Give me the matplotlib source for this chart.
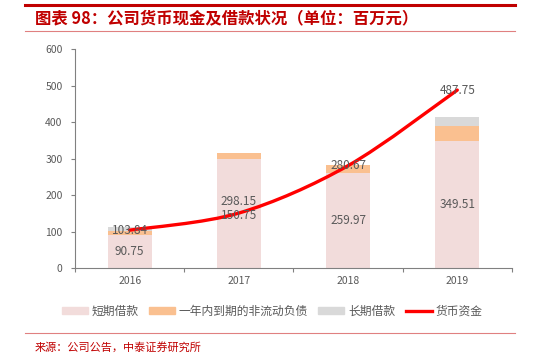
import matplotlib.pyplot as plt
from matplotlib.path import Path
from matplotlib.patches import PathPatch
from matplotlib.lines import Line2D
from matplotlib.patches import Patch
import numpy as np

plt.rcParams['font.family'] = ['Noto Sans CJK SC', 'DejaVu Sans']

# 数据
years = ['2016', '2017', '2018', '2019']
short_loans = [90.75, 298.15, 259.97, 349.51]
current_noncurrent = [11, 17, 22, 40]
long_loans = [10, 0, 0, 25]
cash = [103.84, 150.75, 280.67, 487.75]

c_short = '#F2DCDB'
c_orange = '#FAC090'
c_gray = '#D9D9D9'
c_red = '#FF0000'
c_text = '#595959'
c_title = '#C00000'

fig = plt.figure(figsize=(5.44, 3.56), dpi=100)
ax = fig.add_axes([0.138, 0.247, 0.803, 0.615])

x = np.arange(len(years))
w = 0.4
s = np.array(short_loans)
o = np.array(current_noncurrent)
g = np.array(long_loans)
ax.bar(x, s, w, color=c_short, zorder=2)
ax.bar(x, o, w, bottom=s, color=c_orange, zorder=2)
ax.bar(x, g, w, bottom=s + o, color=c_gray, zorder=2)

# 平滑曲线 (Catmull-Rom -> Bezier)
pts = np.column_stack([x, cash]).astype(float)
verts = [tuple(pts[0])]
codes = [Path.MOVETO]
t = 0.16
for i in range(len(pts) - 1):
    p0 = pts[i - 1] if i > 0 else pts[i]
    p1, p2 = pts[i], pts[i + 1]
    p3 = pts[i + 2] if i + 2 < len(pts) else pts[i + 1]
    c1 = p1 + (p2 - p0) * t
    c2 = p2 - (p3 - p1) * t
    verts += [tuple(c1), tuple(c2), tuple(p2)]
    codes += [Path.CURVE4] * 3
ax.add_patch(PathPatch(Path(verts, codes), fill=False, edgecolor=c_red, lw=2.4, zorder=3,
                       capstyle='round'))

# 数据标签
fs = 8.5
short_label_y = [45, 182, 130, 175]
for xi, v, yy in zip(x, short_loans, short_label_y):
    ax.text(xi, yy, f'{v:.2f}', ha='center', va='center', fontsize=fs, color=c_text, zorder=4)
cash_label_y = [103, 143, 280, 487]
for xi, v, yy in zip(x, cash, cash_label_y):
    ax.text(xi, yy, f'{v:.2f}', ha='center', va='center', fontsize=fs, color=c_text, zorder=4)

ax.set_xlim(-0.5, 3.5)
ax.set_ylim(0, 600)
ax.set_yticks(range(0, 601, 100))
ax.set_xticks(x)
ax.set_xticklabels(years)
ax.set_xticks(np.arange(-0.5, 4, 1), minor=True)
ax.tick_params(axis='x', which='major', length=0, labelsize=7.5, colors=c_text, pad=6)
ax.tick_params(axis='x', which='minor', length=3, color='#808080', width=0.8)
ax.tick_params(axis='y', length=3, labelsize=7.5, colors=c_text, width=0.8, pad=6)
ax.tick_params(axis='y', color='#808080')
for sp in ['top', 'right']:
    ax.spines[sp].set_visible(False)
for sp in ['left', 'bottom']:
    ax.spines[sp].set_color('#808080')
    ax.spines[sp].set_linewidth(0.8)

handles = [Patch(color=c_short), Patch(color=c_orange), Patch(color=c_gray),
           Line2D([0], [0], color=c_red, lw=2.4)]
labels = ['短期借款', '一年内到期的非流动负债', '长期借款', '货币资金']
leg = fig.legend(handles, labels, loc='center', bbox_to_anchor=(0.5, 0.126), ncol=4,
                 frameon=False, fontsize=8.5, handlelength=2.2, handleheight=0.6,
                 handletextpad=0.3, columnspacing=0.9)
for tx in leg.get_texts():
    tx.set_color(c_text)

# 标题与来源
fig.add_artist(Line2D([25 / 544, 515 / 544], [1 - 5 / 356] * 2, color=c_title, lw=2.2))
fig.add_artist(Line2D([25 / 544, 515 / 544], [1 - 31 / 356] * 2, color='#E08080', lw=0.8))
fig.text(35 / 544, 1 - 18 / 356, '图表 98：公司货币现金及借款状况（单位：百万元）', color=c_title,
         fontsize=11.8, fontweight='bold', fontstyle='italic', va='center', ha='left')
fig.add_artist(Line2D([25 / 544, 515 / 544], [1 - 333 / 356] * 2, color='#E08080', lw=0.8))
fig.text(35 / 544, 1 - 347 / 356, '来源：公司公告，中泰证券研究所', color=c_title,
         fontsize=8, va='center', ha='left')

fig.savefig('out.png', dpi=100)
